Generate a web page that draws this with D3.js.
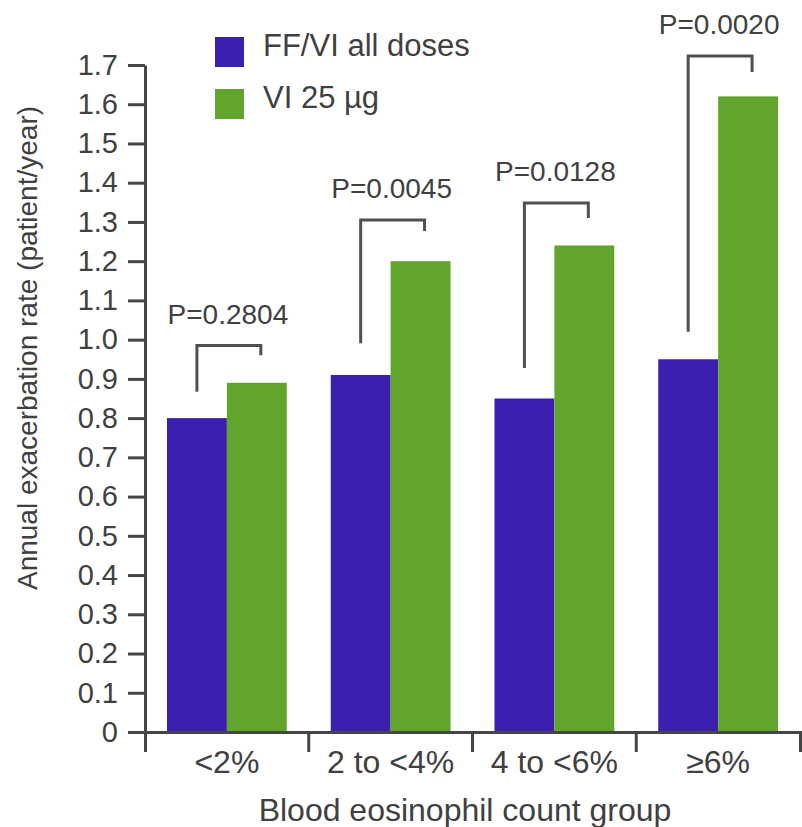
<!DOCTYPE html>
<html>
<head>
<meta charset="utf-8">
<script src="https://cdn.jsdelivr.net/npm/d3@7"></script>
<style>
  body { margin: 0; background: #fff; }
  text { font-family: "Liberation Sans", Arial, sans-serif; fill: #404040; }
</style>
</head>
<body>
<div id="chart"></div>
<script>
// ── Data ─────────────────────────────────────────────────────
const GROUPS = ["<2%", "2 to <4%", "4 to <6%", "≥6%"];
const SERIES = ["FF/VI all doses", "VI 25 µg"];
const FFVI = [0.80, 0.91, 0.85, 0.95];
const VI25 = [0.89, 1.20, 1.24, 1.62];
const P_LABELS = ["P=0.2804", "P=0.0045", "P=0.0128", "P=0.0020"];
// bracket geometry in data units: top bar, bottom of left leg, bottom of right leg
const BRACKET_TOP = [0.985, 1.305, 1.348, 1.723];
const BRACKET_LEFT = [0.867, 0.991, 0.928, 1.020];
const BRACKET_RIGHT = [0.960, 1.277, 1.310, 1.682];
const Y_TICKS = [0, 0.1, 0.2, 0.3, 0.4, 0.5, 0.6, 0.7, 0.8, 0.9, 1.0, 1.1, 1.2, 1.3, 1.4, 1.5, 1.6, 1.7];

const COLORS = ["#3b1fae", "#62a52c"];
const AXIS = "#454545";

const W = 802, H = 827;

const svg = d3.select("#chart").append("svg")
    .attr("width", W)
    .attr("height", H);

// ── Scales ───────────────────────────────────────────────────
const x0 = d3.scaleBand().domain(GROUPS).range([145, 800]).padding(0);
const x1 = d3.scaleBand().domain(SERIES).range([0, x0.bandwidth()])
    .paddingInner(0).paddingOuter(0.367);
const y = d3.scaleLinear().domain([0, 1.7]).range([732, 65]);

const rows = GROUPS.map((g, i) => ({ group: g, values: [FFVI[i], VI25[i]] }));

// ── Bars ─────────────────────────────────────────────────────
svg.append("g")
    .selectAll("g")
    .data(rows)
    .join("g")
    .attr("transform", d => `translate(${x0(d.group)},0)`)
    .selectAll("rect")
    .data(d => d.values.map((v, j) => ({ key: SERIES[j], v, j })))
    .join("rect")
    .attr("x", d => x1(d.key))
    .attr("width", x1.bandwidth())
    .attr("y", d => y(d.v))
    .attr("height", d => y(0) - y(d.v))
    .attr("fill", d => COLORS[d.j]);

// ── Brackets + P values ─────────────────────────────────────
const half = x1.bandwidth() / 2;
GROUPS.forEach(function (g, i) {
    const xl = x0(g) + x1(SERIES[0]) + half;
    const xr = x0(g) + x1(SERIES[1]) + half + 4;
    svg.append("path")
        .attr("d", `M${xl},${y(BRACKET_LEFT[i])}V${y(BRACKET_TOP[i])}H${xr}V${y(BRACKET_RIGHT[i])}`)
        .attr("fill", "none")
        .attr("stroke", "#505050")
        .attr("stroke-width", 3);
    svg.append("text")
        .attr("x", x0(g) + x0.bandwidth() / 2 + 1)
        .attr("y", y(BRACKET_TOP[i]) - 22)
        .attr("text-anchor", "middle")
        .style("font-size", "28px")
        .text(P_LABELS[i]);
});

// ── Y axis ───────────────────────────────────────────────────
const yAxis = svg.append("g")
    .attr("transform", "translate(145,0)")
    .call(d3.axisLeft(y)
        .tickValues(Y_TICKS)
        .tickFormat(d => d === 0 ? "0" : d3.format(".1f")(d))
        .tickSize(17)
        .tickSizeOuter(0)
        .tickPadding(10));
yAxis.select(".domain").attr("stroke", AXIS).attr("stroke-width", 3);
yAxis.selectAll(".tick line").attr("stroke", AXIS).attr("stroke-width", 3);
yAxis.selectAll(".tick text")
    .style("font-size", "29px")
    .style("font-family", "'Liberation Sans', Arial, sans-serif")
    .attr("fill", "#404040");

// ── X axis ───────────────────────────────────────────────────
const xAxis = svg.append("g")
    .attr("transform", `translate(0,${y(0)})`)
    .call(d3.axisBottom(x0).tickSize(0).tickSizeOuter(20).tickPadding(18));
xAxis.select(".domain").attr("stroke", AXIS).attr("stroke-width", 3);
xAxis.selectAll(".tick text")
    .style("font-size", "32px")
    .style("font-family", "'Liberation Sans', Arial, sans-serif")
    .attr("fill", "#404040");
// separators between groups
xAxis.selectAll(".sep")
    .data(GROUPS.slice(1))
    .join("line")
    .attr("class", "sep")
    .attr("x1", d => x0(d)).attr("x2", d => x0(d))
    .attr("y1", 0).attr("y2", 20)
    .attr("stroke", AXIS)
    .attr("stroke-width", 3);

// ── Axis titles ──────────────────────────────────────────────
svg.append("text")
    .attr("transform", "translate(37,348) rotate(-90)")
    .attr("text-anchor", "middle")
    .style("font-size", "28px")
    .text("Annual exacerbation rate  (patient/year)");

svg.append("text")
    .attr("x", 465)
    .attr("y", 821)
    .attr("text-anchor", "middle")
    .style("font-size", "32px")
    .text("Blood eosinophil count group");

// ── Legend ───────────────────────────────────────────────────
const legend = svg.append("g").attr("transform", "translate(215,37)");
SERIES.forEach(function (s, i) {
    legend.append("rect")
        .attr("x", 0).attr("y", i * 52)
        .attr("width", 29).attr("height", 30)
        .attr("fill", COLORS[i]);
    legend.append("text")
        .attr("x", 48).attr("y", i * 52 + 19)
        .style("font-size", "31px")
        .text(s);
});
</script>
</body>
</html>
